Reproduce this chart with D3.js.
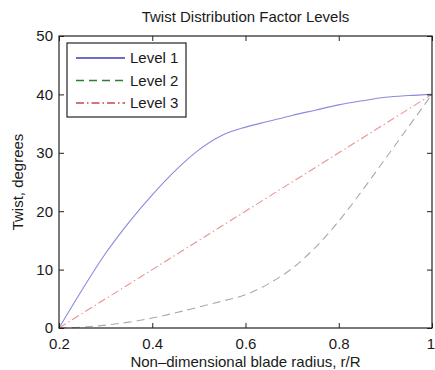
<!DOCTYPE html>
<html>
<head>
<meta charset="utf-8">
<script src="https://cdn.jsdelivr.net/npm/d3@7"></script>
<style>
  html, body { margin: 0; padding: 0; background: #fff; }
  svg text { font-family: "Liberation Sans", Arial, Helvetica, sans-serif; fill: #1a1a1a; }
</style>
</head>
<body>
<svg id="chart" width="435" height="370"></svg>
<script>
// Non-dimensional radius stations and twist (degrees) for each level
const radius = [0.2, 0.25, 0.3, 0.35, 0.4, 0.45, 0.5, 0.55, 0.6, 0.65, 0.7, 0.75, 0.8, 0.85, 0.9, 0.95, 1.0];
const level1 = [0, 6.6, 12.8, 18.1, 22.8, 27.0, 30.5, 33.0, 34.4, 35.4, 36.4, 37.3, 38.2, 38.9, 39.5, 39.8, 40];
const level2 = [0, 0.15, 0.5, 1.0, 1.7, 2.6, 3.6, 4.6, 5.7, 7.6, 10.2, 13.8, 18.3, 23.5, 29.0, 34.5, 40];
const level3 = [0, 2.5, 5, 7.5, 10, 12.5, 15, 17.5, 20, 22.5, 25, 27.5, 30, 32.5, 35, 37.5, 40];

const seriesNames = ["Level 1", "Level 2", "Level 3"];
const xTicks = [0.2, 0.4, 0.6, 0.8, 1];
const xTickLabels = ["0.2", "0.4", "0.6", "0.8", "1"];
const yTicks = [0, 10, 20, 30, 40, 50];

const titleText = "Twist Distribution Factor Levels";
const xLabelText = "Non\u2013dimensional blade radius, r/R";
const yLabelText = "Twist, degrees";

const svg = d3.select("#chart");
const plotLeft = 59, plotRight = 432, plotTop = 36, plotBottom = 328;

const x = d3.scaleLinear().domain([0.2, 1]).range([plotLeft, plotRight]);
const y = d3.scaleLinear().domain([0, 50]).range([plotBottom, plotTop]);

const styles = [
  { line: "#8a8ade", key: "#3c3cb0", dash: null },
  { line: "#a9a9a9", key: "#2f7f2f", dash: "8,5" },
  { line: "#e99393", key: "#c24a4a", dash: "8,3,1.5,3" }
];

const series = [level1, level2, level3].map((vals, i) => ({
  name: seriesNames[i],
  points: radius.map((r, j) => [r, vals[j]])
}));

// curves
const line = d3.line()
  .x(d => x(d[0]))
  .y(d => y(d[1]))
  .curve(d3.curveMonotoneX);

svg.append("g").selectAll("path")
  .data(series)
  .join("path")
  .attr("d", d => line(d.points))
  .attr("fill", "none")
  .attr("stroke", (d, i) => styles[i].line)
  .attr("stroke-width", 1.1)
  .attr("stroke-dasharray", (d, i) => styles[i].dash);

// axes with inward ticks on all four sides
const tickLen = 5;
const fs = "15px";

const xAxisB = d3.axisBottom(x).tickValues(xTicks).tickSizeInner(-tickLen).tickSizeOuter(0)
  .tickFormat((d, i) => xTickLabels[i]);
const gxb = svg.append("g").attr("transform", `translate(0,${plotBottom})`).call(xAxisB);
gxb.selectAll("text").style("font-size", fs).attr("y", 10).attr("dy", "0.71em");
// keep the last label inside the canvas edge
gxb.selectAll("text").filter(d => d === 1).attr("text-anchor", "end").attr("x", 2.5);

const xAxisT = d3.axisTop(x).tickValues(xTicks).tickSizeInner(-tickLen).tickSizeOuter(0).tickFormat("");
svg.append("g").attr("transform", `translate(0,${plotTop})`).call(xAxisT);

const yAxisL = d3.axisLeft(y).tickValues(yTicks).tickSizeInner(-tickLen).tickSizeOuter(0);
const gyl = svg.append("g").attr("transform", `translate(${plotLeft},0)`).call(yAxisL);
gyl.selectAll("text").style("font-size", fs).attr("x", -6);

const yAxisR = d3.axisRight(y).tickValues(yTicks).tickSizeInner(-tickLen).tickSizeOuter(0).tickFormat("");
svg.append("g").attr("transform", `translate(${plotRight},0)`).call(yAxisR);

svg.selectAll(".domain").remove();
svg.selectAll(".tick line").attr("stroke", "#222");

// plot frame
svg.append("rect")
  .attr("x", plotLeft).attr("y", plotTop)
  .attr("width", plotRight - plotLeft).attr("height", plotBottom - plotTop)
  .attr("fill", "none").attr("stroke", "#222").attr("stroke-width", 1.2);

// title and axis labels
svg.append("text").attr("x", (plotLeft + plotRight) / 2).attr("y", 22)
  .attr("text-anchor", "middle").style("font-size", "15px").text(titleText);
svg.append("text").attr("x", (plotLeft + plotRight) / 2).attr("y", 367)
  .attr("text-anchor", "middle").style("font-size", "15px").text(xLabelText);
svg.append("text").attr("transform", `translate(23,${(plotTop + plotBottom) / 2}) rotate(-90)`)
  .attr("text-anchor", "middle").style("font-size", "15px").text(yLabelText);

// legend
const legend = svg.append("g");
legend.append("rect")
  .attr("x", 67).attr("y", 43).attr("width", 119).attr("height", 74)
  .attr("fill", "#fff").attr("stroke", "#222").attr("stroke-width", 1.2);
const items = legend.selectAll("g.item").data(series).join("g")
  .attr("transform", (d, i) => `translate(0,${58 + i * 22.5})`);
items.append("line")
  .attr("x1", 76).attr("x2", 125).attr("y1", 0).attr("y2", 0)
  .attr("stroke", (d, i) => styles[i].key)
  .attr("stroke-width", 1.4)
  .attr("stroke-dasharray", (d, i) => styles[i].dash);
items.append("text")
  .attr("x", 130).attr("y", 0).attr("dy", "0.35em")
  .style("font-size", "15px")
  .text(d => d.name);
</script>
</body>
</html>
